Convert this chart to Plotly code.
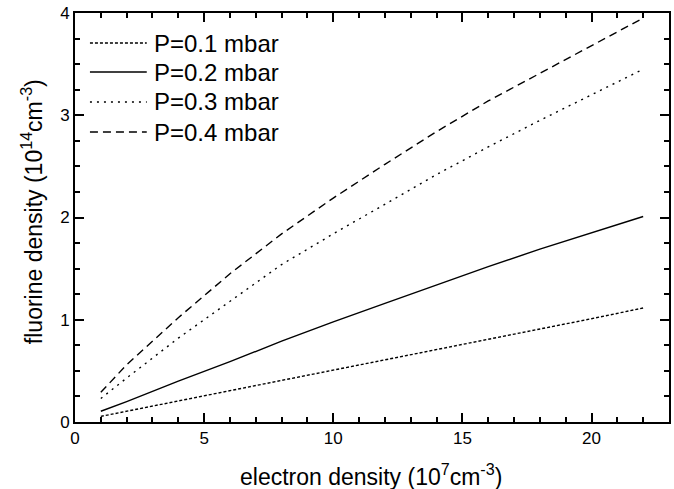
import plotly.graph_objects as go

x_vals = [1, 2, 4, 6, 8, 10, 12, 14, 16, 18, 20, 22]
p01 = [0.055, 0.105, 0.21, 0.31, 0.41, 0.51, 0.61, 0.71, 0.81, 0.91, 1.01, 1.115]
p02 = [0.105, 0.20, 0.40, 0.59, 0.79, 0.98, 1.16, 1.34, 1.52, 1.69, 1.85, 2.01]
p03 = [0.23, 0.43, 0.82, 1.18, 1.54, 1.84, 2.13, 2.42, 2.69, 2.95, 3.20, 3.45]
p04 = [0.29, 0.56, 1.02, 1.45, 1.84, 2.19, 2.52, 2.84, 3.14, 3.41, 3.68, 3.95]
labels = ["P=0.1 mbar", "P=0.2 mbar", "P=0.3 mbar", "P=0.4 mbar"]
dashes = ["3px,2px", "solid", "2px,5px", "8px,5px"]
series = [p01, p02, p03, p04]
x_major = [0, 5, 10, 15, 20]
y_major = [0, 1, 2, 3, 4]

FONT = "Liberation Sans, Arial, sans-serif"
W, H = 674, 489
L, R, T, B = 75, 3, 13, 67
pw, ph = W - L - R, H - T - B

fig = go.Figure()
for lab, ys, d in zip(labels, series, dashes):
    fig.add_trace(go.Scatter(x=x_vals, y=ys, mode="lines", name=lab,
                             line=dict(color="black", width=1.4, dash=d),
                             showlegend=False))

shapes = []
annotations = []

# manual legend (line samples + text) in paper coordinates
leg_y = [43, 72, 102, 132]
for lab, d, py in zip(labels, dashes, leg_y):
    yp = (H - B - py) / ph
    shapes.append(dict(type="line", xref="paper", yref="paper",
                       x0=(90 - L) / pw, x1=(147 - L) / pw, y0=yp, y1=yp,
                       line=dict(color="black", width=1.4, dash=d)))
    annotations.append(dict(text=lab, xref="paper", yref="paper",
                            x=(152 - L) / pw, y=yp, xanchor="left", yanchor="middle",
                            showarrow=False, font=dict(size=24, family=FONT, color="black")))

annotations.append(dict(text="fluorine density (10<sup>14</sup>cm<sup>-3</sup>)",
                        xref="paper", yref="paper", x=(32 - L) / pw, y=(H - B - 212) / ph,
                        xanchor="center", yanchor="middle", textangle=-90, showarrow=False,
                        font=dict(size=23, family=FONT, color="black")))
annotations.append(dict(text="electron density (10<sup>7</sup>cm<sup>-3</sup>)",
                        xref="paper", yref="paper", x=(372 - L) / pw, y=-(475 - (H - B)) / ph,
                        xanchor="center", yanchor="middle", showarrow=False,
                        font=dict(size=23, family=FONT, color="black")))

axis_common = dict(showgrid=False, zeroline=False, showline=True, linecolor="black",
                   linewidth=2, mirror="allticks", ticks="inside", ticklen=9,
                   tickwidth=2, tickcolor="black",
                   tickfont=dict(size=17, family=FONT, color="black"))

fig.update_xaxes(range=[0, 23], tickvals=x_major,
                 minor=dict(dtick=1, ticks="inside", ticklen=5, tickwidth=2, tickcolor="black"),
                 **axis_common)
fig.update_yaxes(range=[0, 4], tickvals=y_major,
                 minor=dict(dtick=0.25, ticks="inside", ticklen=5, tickwidth=2, tickcolor="black"),
                 **axis_common)

fig.update_layout(width=W, height=H, margin=dict(l=L, r=R, t=T, b=B),
                  paper_bgcolor="white", plot_bgcolor="white",
                  shapes=shapes, annotations=annotations, showlegend=False,
                  font=dict(family=FONT, color="black"))

fig.write_html("out.html", config={"displayModeBar": False},
               post_script="document.body.style.margin='0';document.body.style.overflow='hidden';")
